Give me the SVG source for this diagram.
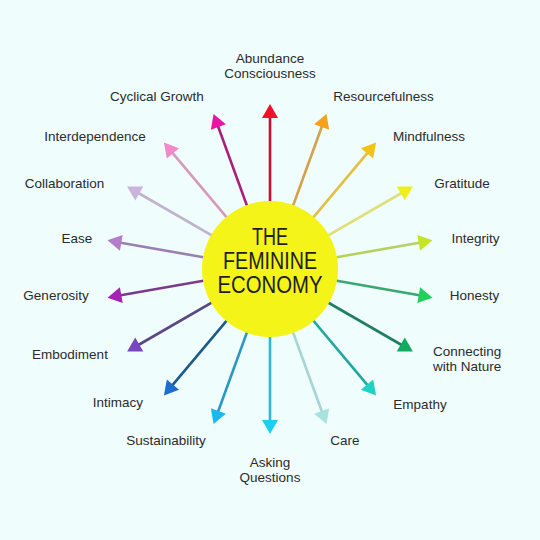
<svg xmlns="http://www.w3.org/2000/svg" width="540" height="540" viewBox="0 0 540 540">
<style>
.lbl{font-family:"Liberation Sans",Arial,sans-serif;font-size:13.5px;fill:#2b2b2b;text-anchor:middle}
.st{text-anchor:start}
.title{font-family:"Liberation Sans",Arial,sans-serif;font-size:23px;fill:#1e1e1e;text-anchor:middle}
.ln{stroke-width:2.6;fill:none}
</style>
<rect width="540" height="540" fill="#effdfd"/>
<g id="connectors">
<g transform="rotate(0 270 269)"><line class="ln" x1="270" y1="269" x2="270" y2="116" stroke="#c8102e"/><polygon points="270,104 262,118 278,118" fill="#f0102a"/></g>
<g transform="rotate(20 270 269)"><line class="ln" x1="270" y1="269" x2="270" y2="116" stroke="#d4a24a"/><polygon points="270,104 262,118 278,118" fill="#f7a11a"/></g>
<g transform="rotate(40 270 269)"><line class="ln" x1="270" y1="269" x2="270" y2="116" stroke="#e2c040"/><polygon points="270,104 262,118 278,118" fill="#f2c410"/></g>
<g transform="rotate(60 270 269)"><line class="ln" x1="270" y1="269" x2="270" y2="116" stroke="#e0e07a"/><polygon points="270,104 262,118 278,118" fill="#eef01e"/></g>
<g transform="rotate(80 270 269)"><line class="ln" x1="270" y1="269" x2="270" y2="116" stroke="#b8d060"/><polygon points="270,104 262,118 278,118" fill="#c4e428"/></g>
<g transform="rotate(100 270 269)"><line class="ln" x1="270" y1="269" x2="270" y2="116" stroke="#3aa870"/><polygon points="270,104 262,118 278,118" fill="#1fd05a"/></g>
<g transform="rotate(120 270 269)"><line class="ln" x1="270" y1="269" x2="270" y2="116" stroke="#1f8060"/><polygon points="270,104 262,118 278,118" fill="#12aa5e"/></g>
<g transform="rotate(140 270 269)"><line class="ln" x1="270" y1="269" x2="270" y2="116" stroke="#20a8a0"/><polygon points="270,104 262,118 278,118" fill="#1ed2c4"/></g>
<g transform="rotate(160 270 269)"><line class="ln" x1="270" y1="269" x2="270" y2="116" stroke="#a8d4d4"/><polygon points="270,104 262,118 278,118" fill="#a6e2de"/></g>
<g transform="rotate(180 270 269)"><line class="ln" x1="270" y1="269" x2="270" y2="116" stroke="#30b8d0"/><polygon points="270,104 262,118 278,118" fill="#1ad0ec"/></g>
<g transform="rotate(200 270 269)"><line class="ln" x1="270" y1="269" x2="270" y2="116" stroke="#2a98c0"/><polygon points="270,104 262,118 278,118" fill="#1ab8ee"/></g>
<g transform="rotate(220 270 269)"><line class="ln" x1="270" y1="269" x2="270" y2="116" stroke="#1a5a88"/><polygon points="270,104 262,118 278,118" fill="#1a70cc"/></g>
<g transform="rotate(240 270 269)"><line class="ln" x1="270" y1="269" x2="270" y2="116" stroke="#5a4880"/><polygon points="270,104 262,118 278,118" fill="#7a46c0"/></g>
<g transform="rotate(260 270 269)"><line class="ln" x1="270" y1="269" x2="270" y2="116" stroke="#7a3a86"/><polygon points="270,104 262,118 278,118" fill="#a622b4"/></g>
<g transform="rotate(280 270 269)"><line class="ln" x1="270" y1="269" x2="270" y2="116" stroke="#9a80b0"/><polygon points="270,104 262,118 278,118" fill="#b47ccc"/></g>
<g transform="rotate(300 270 269)"><line class="ln" x1="270" y1="269" x2="270" y2="116" stroke="#c0b4cc"/><polygon points="270,104 262,118 278,118" fill="#ccb2dc"/></g>
<g transform="rotate(320 270 269)"><line class="ln" x1="270" y1="269" x2="270" y2="116" stroke="#d898b8"/><polygon points="270,104 262,118 278,118" fill="#f488cc"/></g>
<g transform="rotate(340 270 269)"><line class="ln" x1="270" y1="269" x2="270" y2="116" stroke="#a8207c"/><polygon points="270,104 262,118 278,118" fill="#ec14a4"/></g>
</g>
<g id="center">
<circle cx="270" cy="269" r="68" fill="#f4f418"/>
<text class="title" x="270" y="245" textLength="36" lengthAdjust="spacingAndGlyphs">THE</text>
<text class="title" x="270" y="269" textLength="94" lengthAdjust="spacingAndGlyphs">FEMININE</text>
<text class="title" x="270" y="293" textLength="105" lengthAdjust="spacingAndGlyphs">ECONOMY</text>
</g>
<g id="abundance"><text class="lbl" x="270" y="63">Abundance</text><text class="lbl" x="270" y="78">Consciousness</text></g>
<g id="resourcefulness"><text class="lbl" x="383.5" y="101">Resourcefulness</text></g>
<g id="mindfulness"><text class="lbl" x="429" y="141">Mindfulness</text></g>
<g id="gratitude"><text class="lbl" x="462" y="188">Gratitude</text></g>
<g id="integrity"><text class="lbl" x="475.5" y="243">Integrity</text></g>
<g id="honesty"><text class="lbl" x="474.5" y="300">Honesty</text></g>
<g id="connecting"><text class="lbl st" x="433" y="356">Connecting</text><text class="lbl st" x="433" y="371">with Nature</text></g>
<g id="empathy"><text class="lbl" x="420" y="409">Empathy</text></g>
<g id="care"><text class="lbl" x="345" y="445">Care</text></g>
<g id="asking"><text class="lbl" x="270" y="467">Asking</text><text class="lbl" x="270" y="482">Questions</text></g>
<g id="sustainability"><text class="lbl" x="166" y="445">Sustainability</text></g>
<g id="intimacy"><text class="lbl" x="118" y="407">Intimacy</text></g>
<g id="embodiment"><text class="lbl" x="70" y="359">Embodiment</text></g>
<g id="generosity"><text class="lbl" x="56" y="300">Generosity</text></g>
<g id="ease"><text class="lbl" x="77" y="243">Ease</text></g>
<g id="collaboration"><text class="lbl" x="64.5" y="188">Collaboration</text></g>
<g id="interdependence"><text class="lbl" x="95" y="141">Interdependence</text></g>
<g id="cyclical"><text class="lbl" x="157" y="101">Cyclical Growth</text></g>
</svg>
